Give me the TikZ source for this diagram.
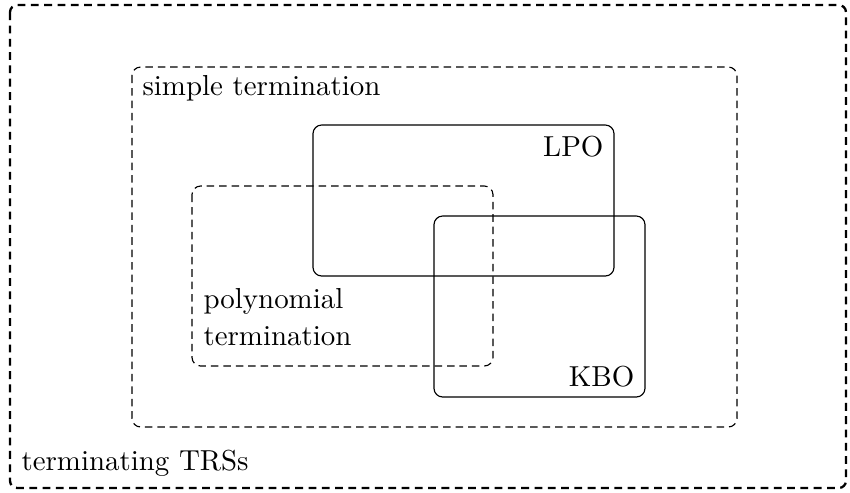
\documentclass[tikz,border=0pt]{standalone}
\usetikzlibrary{positioning}
\begin{document}
\begin{tikzpicture}[x=0.346pt, y=-0.346pt,
  region/.style={draw, rounded corners=3pt, line width=0.4pt},
  dregion/.style={region, dash pattern=on 2.6pt off 1.7pt},
  outerregion/.style={draw, rounded corners=2.5pt, line width=0.8pt, dash pattern=on 2.7pt off 1.9pt},
  lbl/.style={inner sep=0pt, font=\normalsize}]
\useasboundingbox (0,0) rectangle (850,493);
% nested classes of terminating rewrite systems
\draw[outerregion] (10,5) rectangle (846,488);
\draw[dregion] (132,67) rectangle (737,427);
\draw[region] (313,125) rectangle (614,276);
\draw[dregion] (192,186) rectangle (493,366);
\draw[region] (434,216) rectangle (645,397);
% labels
\node[lbl, anchor=base west] (tt) at (21,470) {terminating TRSs};
\node[lbl, anchor=base west] (st) at (142,95) {simple termination};
\node[lbl, anchor=base east] (lpo) at (604,156) {LPO};
\node[lbl, anchor=base east] (kbo) at (635,386) {KBO};
\node[lbl, anchor=base west] (pt1) at (203,308) {polynomial};
\node[lbl, anchor=base west] (pt2) at (203,345) {termination};
\end{tikzpicture}
\end{document}
